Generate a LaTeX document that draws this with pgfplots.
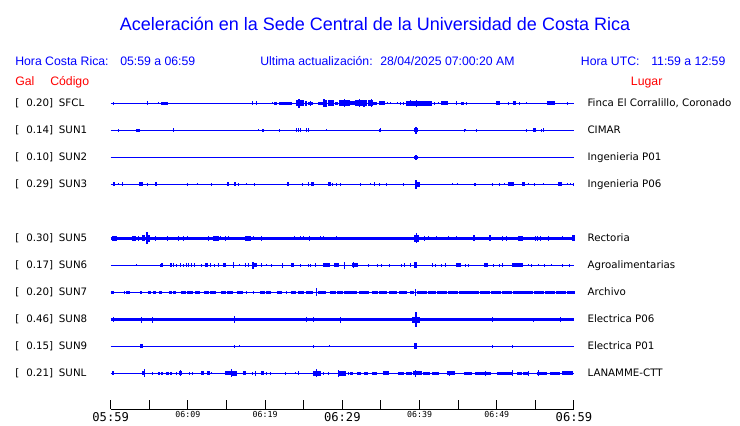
\documentclass[border=0pt]{standalone}
\usepackage{pgfplots}
\pgfplotsset{compat=1.18}
\usepackage{pgfplotstable}
\usepackage{fontspec}
\setmainfont{Liberation Sans}
\newfontfamily\dejavu{DejaVu Sans}
\newfontfamily\dmono{DejaVu Sans Mono}

% a burst of the record: rectangle of w px wide and 2a px high
\pgfdeclareplotmark{burst}{%
  \pgfpathrectangle{\pgfpoint{-0.375*\bw bp}{-0.75*\ba bp}}{\pgfpoint{0.75*\bw bp}{1.5*\ba bp}}%
  \pgfusepathqfill}

% #1 table, #2 offset (px above time axis), #3 base line width
\newcommand{\trace}[3]{%
  \addplot[blue, line width=#3, forget plot] coordinates {(0,#2) (60,#2)};
  \addplot[blue, only marks, mark=burst, forget plot,
    visualization depends on={\thisrow{w} \as \bw},
    visualization depends on={\thisrow{a} \as \ba}]
    table[x=t, y expr=#2] {#1};
}

\newcommand\bigt[1]{\fontsize{9.1bp}{10bp}\selectfont #1}
\newcommand\smallt[1]{\raisebox{2.8bp}{\fontsize{6.2bp}{7bp}\selectfont #1}}

% t = minutes after 05:59, w = width (px), a = half amplitude (px)
\pgfplotstableread{
t w a
0.3 1 1.5
4.8 1 2
6.2 1 1
7.0 7 1.7
18.4 1 2
18.9 1 2
21.0 1 1
21.4 3 1.5
22.0 4 1.7
22.6 4 1.7
23.2 5 1.5
24.5 8 3
24.4 1.5 4.5
25.3 2 2.5
25.9 5 1.7
25.9 1 2.5
27.2 5 1.7
27.7 4 3.5
27.6 1.5 4
28.5 6 3
29.2 3 1.5
30.3 11 3
30.3 1.5 4
31.2 7 2
32.4 12 3
32.2 1.5 4
32.8 1.5 3.5
33.6 5 3
33.8 1.5 4
34.2 4 1.5
35.1 6 2
35.8 1 1
36.2 1 1
37.1 1 1
37.5 1 1.5
37.9 1 1.5
38.8 9 2.5
38.8 1.5 3
39.7 5 2.5
39.6 1.5 3.5
40.8 12 2.3
41.9 1 1.5
42.4 1 1
43.2 7 2
44.8 1 2
45.6 3 1.5
46.1 1 1.5
50.2 4 2
51.5 1 1.5
52.3 3 2
52.9 1 1.5
53.9 1 1
57.0 8 2
59.2 1 1.5
}\sfcl

\pgfplotstableread{
t w a
1.0 1 1.5
3.5 4 1.7
8.1 1 2
19.1 1 1
19.7 2 1.7
21.8 1 1.5
24.1 1 2
24.3 1 2
24.6 1 2
25.4 1 2
25.6 1 2
28.0 1 1
34.8 1 1.5
35.0 1 2
39.5 4 2
39.5 2 3.5
45.8 1 1.5
46.0 1 1
47.4 1 1.5
53.8 1 1.5
54.9 3 2
55.8 1 1.5
56.1 1 2
}\sunA

\pgfplotstableread{
t w a
39.5 4 1.7
39.5 2 2.5
}\sunB

\pgfplotstableread{
t w a
0.4 2 2
1.0 1 1
1.5 1 2
3.9 4 2
4.8 1 1.5
5.9 2 2
10.0 1 1.5
11.2 1 1
13.0 1 1.5
15.2 2 2
16.1 2 2
16.6 1 1.5
17.6 1 1
18.6 1 1.5
22.9 2 2
24.8 1 1.5
25.6 1 2
26.1 3 2
28.3 3 2
28.7 1 1.5
29.2 1 1.5
29.8 1 1.5
32.4 1 1.5
33.6 1 1
34.2 1 2
34.8 1 1.5
35.7 1 1.5
37.9 1 1.5
39.7 5 2.5
39.5 2 4.5
44.3 1 1
44.9 1 1
47.2 2 1.5
49.5 1 1.5
50.4 1 1.5
51.0 1 1
51.8 6 2
53.4 3 2
54.1 1 1
54.9 1 1.5
56.1 1 1
58.2 4 2
59.1 1 1
59.5 1 1
59.9 1 1.5
}\sunC

\pgfplotstableread{
t w a
0.5 5 2.3
3.0 4 2.3
3.6 1 2.3
4.2 3 3
4.8 4 3.5
4.7 1.5 6
5.8 1 2.5
7.3 1 2.5
8.8 1 2.5
9.4 1 2.3
10.0 1 2
12.7 1 2.5
13.6 6 2.5
14.2 1 2
14.9 1 2.5
15.3 1 2
17.8 6 2.5
18.5 1 2
19.5 1 2.5
23.8 1 2
24.6 1 2
25.0 1 2
25.7 1 2.5
27.2 1 2
27.5 1 2
29.3 1 2
39.6 5 3.5
39.6 1.5 5
40.7 1 2.5
41.1 1 2
42.2 1 2
43.7 1 2
44.8 1 2
47.1 2 3
49.1 2 3
50.8 1 2.5
51.2 1 2.5
53.1 5 2.5
55.0 1 2.5
55.3 1 2.5
55.6 1 2.5
56.7 1 2.5
58.5 1 2
59.9 3 3
}\sunE

\pgfplotstableread{
t w a
3.3 1 1
6.4 1 1.5
6.6 2 2
7.8 2 2
8.1 1 2
8.5 1 1.5
9.0 1 2
9.4 1 1.5
9.8 1 2
10.1 1 2
10.5 1 2
10.8 1 2
11.8 1 1.5
12.4 3 2
12.9 1 2
13.5 1 1.5
13.9 1 2
14.8 3 2
15.9 1 3
16.7 1 1
17.4 1 2
17.8 1 2
18.7 4 2
18.4 1.5 3.7
19.5 1 2
20.2 1 1
20.8 1 1.5
22.3 1 2.5
23.6 3 2
24.6 1 1.5
25.6 1 1.5
25.9 1 1.5
26.5 1 2
28.0 7 2
29.2 5 2
30.3 1 3.5
31.7 6 2
31.4 1 3
33.4 1 1.5
34.6 1 1.5
35.1 1 1.5
36.1 1 1.5
37.7 1 1.5
38.0 1 2
38.8 1 2
39.5 3 3
41.7 1 2
42.0 1 1.5
42.9 1 1.5
43.4 1 2
45.0 5 2
46.0 1 1.5
46.4 1 1.5
48.6 4 2
49.6 1 1.5
50.3 1 1.5
50.7 1 2
52.6 10 2
53.1 4 2
54.1 1 1
54.5 1 1.5
55.4 1 1
56.2 1 1.5
57.1 1 1
58.5 1 1.5
59.4 1 1.5
}\sunF

\pgfplotstableread{
t w a
0.2 3 1.7
1.8 1 1.5
2.3 4 1.7
3.9 2.5 1.7
5.0 3 1.7
5.7 3 1.7
6.4 3 1.5
7.7 3 1.7
8.3 3 1.7
9.4 5 1.7
10.3 6 1.7
11.2 5 1.7
12.4 5 1.7
13.3 6 1.7
14.6 5 1.7
15.5 6 1.7
16.7 6 1.5
17.6 1 1.5
18.5 1 1.5
19.6 5 1.7
20.4 5 1.7
21.8 5 1.7
22.8 1 1.5
23.7 5 1.7
24.6 6 1.7
25.8 7 1.7
26.7 1 4
27.4 8 1.7
28.8 6 1.7
29.7 6 1.7
30.6 5 1.7
31.2 10 1.7
32.8 10 1.7
34.2 6 1.7
35.3 8 1.7
36.6 8 1.7
37.9 8 1.7
39.0 4 1.7
39.5 1.5 3.5
40.3 10 1.7
41.6 8 1.7
42.9 10 1.7
44.3 10 1.7
45.7 10 1.7
47.1 10 1.7
48.5 10 1.7
49.9 10 1.7
51.3 10 1.7
52.7 10 1.7
54.1 10 1.7
55.5 10 1.7
56.9 10 1.7
58.3 10 1.7
59.6 8 1.7
}\sunG

\pgfplotstableread{
t w a
0.3 1 2.5
4.0 1 3
5.4 1 3
16.0 1 3.5
25.4 1 2.5
26.2 1 2.5
29.8 1 3
39.5 8 3
39.5 2 7.5
49.5 1 2.5
54.7 1 2
58.2 1 2.5
}\sunH

\pgfplotstableread{
t w a
4.0 3 2
16.0 1 1.5
16.7 1 1
26.2 1 1.5
28.3 1 1
39.5 3 3
49.5 1 1.5
52.1 1 1.5
}\sunI

\pgfplotstableread{
t w a
0.3 2 2
4.2 3 2
4.4 1 4
5.4 1 1.5
6.2 2 1.7
6.7 2 1.7
7.3 3 1.7
7.8 2 1.7
8.5 1 1.5
9.1 3 2
9.1 1 3
10.2 1 1.5
10.6 1 1.5
11.9 3 2
12.7 3 2
13.1 1 1
15.2 7 2
15.7 1 4
16.0 6 2.5
17.3 3 2
18.3 1 1.5
18.7 1 2.5
19.6 3 2
20.2 1 1.5
20.7 1 1.5
22.6 1 1.5
23.9 1 1
24.3 1 2
26.7 8 2.5
26.6 1 4
27.5 1 1.5
28.2 1 1.5
29.9 8 2.5
29.5 1 3.5
30.3 1 1.5
30.8 1 1.5
31.2 3 1.5
32.2 4 1.5
33.0 4 1.5
34.1 5 1.5
35.6 6 2
37.6 6 1.5
38.6 6 1.5
39.7 9 2
39.5 1.5 3.5
40.9 7 1.5
42.1 7 1.5
43.9 1 2.5
44.1 8 2
46.3 8 1.5
47.7 8 1.5
48.4 13 1.7
48.6 1 2.5
50.5 8 1.7
51.6 8 1.7
52.1 1 3
53.0 5 1.5
53.7 5 1.5
54.1 1 2.5
55.9 10 1.7
55.4 1 3
57.2 5 1.5
57.9 5 1.5
59.1 11 2
}\sunL

\begin{document}
\begin{tikzpicture}
\begin{scope}[x=0.75bp, y=-0.75bp]
  \path[use as bounding box] (0,0) rectangle (740,423);
  \node[blue, anchor=base, inner sep=0pt, font=\fontsize{13.5bp}{16bp}\selectfont]
    at (375,30.7) {Aceleración en la Sede Central de la Universidad de Costa Rica};
  \begin{scope}[every node/.style={anchor=base west, inner sep=0pt, font=\fontsize{9.2bp}{11bp}\selectfont}]
    \node[blue] at (15,65.3) {Hora Costa Rica:};
    \node[blue] at (120,65.3) {05:59 a 06:59};
    \node[blue] at (260,65.3) {Ultima actualización:};
    \node[blue] at (380,65.3) {28/04/2025 07:00:20 AM};
    \node[blue] at (580.7,65.3) {Hora UTC:};
    \node[blue] at (651,65.3) {11:59 a 12:59};
    \node[red] at (15,85) {Gal};
    \node[red] at (50,85) {Código};
    \node[red] at (630.7,85) {Lugar};
  \end{scope}
  \begin{scope}[every node/.style={inner sep=0pt, font=\dejavu\fontsize{7.7bp}{9bp}\selectfont}]
    \foreach \r/\v/\c/\n in {103.3/0.20/SFCL/{Finca El Corralillo, Coronado},
        130.3/0.14/SUN1/CIMAR, 157.3/0.10/SUN2/Ingenieria P01,
        184.3/0.29/SUN3/Ingenieria P06, 238.3/0.30/SUN5/Rectoria,
        265.3/0.17/SUN6/Agroalimentarias, 292.3/0.20/SUN7/Archivo,
        319.5/0.46/SUN8/Electrica P06, 346.3/0.15/SUN9/Electrica P01,
        373.3/0.21/SUNL/LANAMME-CTT} {
      \node[anchor=base west] at (15,\r+3.4) {[};
      \node[anchor=base east] at (53.5,\r+3.4) {\v]};
      \node[anchor=base west] at (58.7,\r+3.4) {\c};
      \node[anchor=base west] at (587.3,\r+3.4) {\n};
    }
  \end{scope}
\end{scope}

\begin{axis}[
  at={(83.025bp,-306.75bp)}, anchor=south west,
  scale only axis, width=347.475bp, height=240.75bp,
  xmin=0, xmax=60, ymin=0, ymax=321,
  axis x line*=bottom, axis y line=none,
  xtick={0,5,...,60}, ytick=\empty,
  xticklabels={\bigt{05:59},,\smallt{06:09},,\smallt{06:19},,\bigt{06:29},,\smallt{06:39},,\smallt{06:49},,\bigt{06:59}},
  tick align=inside, major tick length=6.75bp,
  axis line style={black, line width=0.75bp},
  tick style={black, line width=0.75bp},
  xticklabel style={font=\dmono, anchor=base, yshift=-9bp},
  clip=false,
]
  \trace{\sfcl}{305.7}{0.75bp}
  \trace{\sunA}{278.7}{0.75bp}
  \trace{\sunB}{251.7}{0.75bp}
  \trace{\sunC}{224.7}{0.75bp}
  \trace{\sunE}{170.7}{2.7bp}
  \trace{\sunF}{143.7}{0.75bp}
  \trace{\sunG}{116.7}{0.9bp}
  \trace{\sunH}{89.5}{2.5bp}
  \trace{\sunI}{62.7}{0.75bp}
  \trace{\sunL}{35.7}{0.75bp}
\end{axis}
\end{tikzpicture}
\end{document}
